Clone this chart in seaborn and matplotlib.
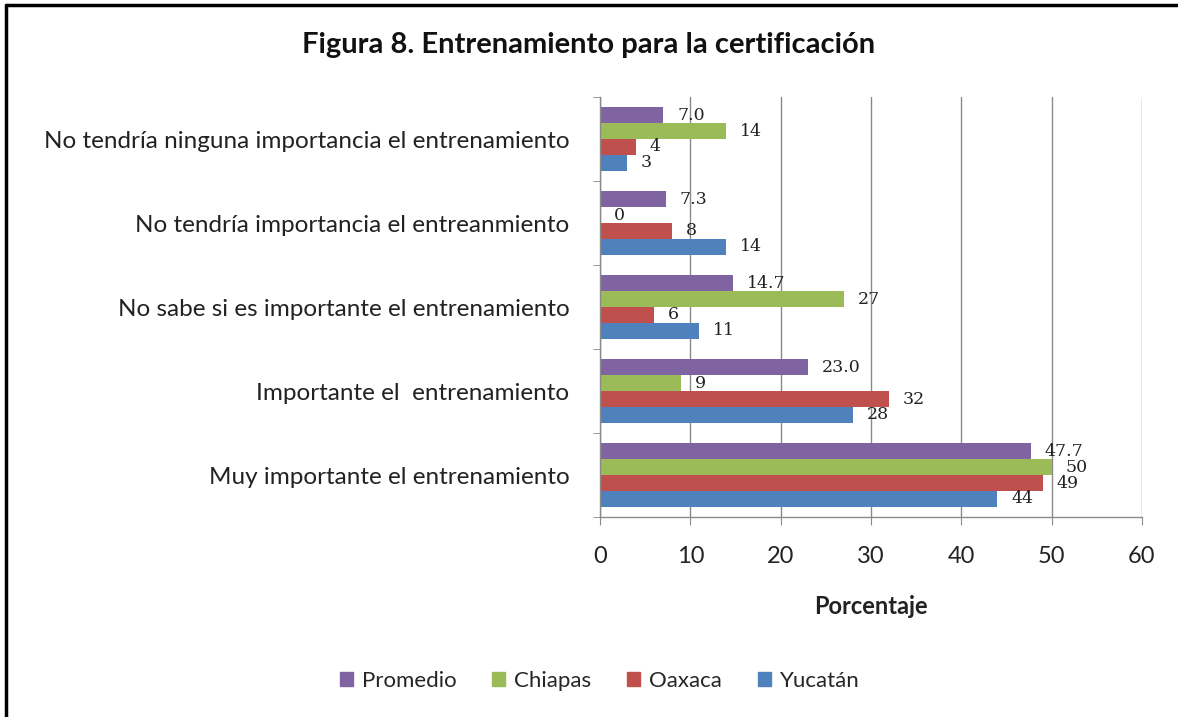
import matplotlib
matplotlib.use("Agg")
import matplotlib.pyplot as plt
from matplotlib.lines import Line2D
import pandas as pd
import seaborn as sns

categorias = ['No tendría ninguna importancia el entrenamiento',
              'No tendría importancia el entreanmiento',
              'No sabe si es importante el entrenamiento',
              'Importante el  entrenamiento',
              'Muy importante el entrenamiento']
estados = ['Promedio', 'Chiapas', 'Oaxaca', 'Yucatán']
promedio = [7.0, 7.3, 14.7, 23.0, 47.7]
chiapas = [14, 0, 27, 9, 50]
oaxaca = [4, 8, 6, 32, 49]
yucatan = [3, 14, 11, 28, 44]
colores = ['#8064A2', '#9BBB59', '#C0504D', '#4F81BD']

df = pd.DataFrame({'Categoria': categorias * 4,
                   'Estado': sum([[e] * 5 for e in estados], []),
                   'Porcentaje': promedio + chiapas + oaxaca + yucatan})

sns.set_style('white')
plt.rcParams['font.family'] = ['Lato', 'DejaVu Sans']

fig = plt.figure(figsize=(11.78, 7.17), dpi=100)
ax = fig.add_axes([0.5093, 0.2789, 0.4601, 0.5858])

sns.barplot(data=df, x='Porcentaje', y='Categoria', hue='Estado', hue_order=estados,
            order=categorias, palette=colores, orient='h', width=0.76, gap=0,
            saturation=1, legend=True, ax=ax, edgecolor='none')

# etiquetas de datos
for i, cont in enumerate(ax.containers):
    fmt = '%.1f' if i == 0 else '%d'
    ax.bar_label(cont, fmt=fmt, padding=10, fontsize=12.5,
                 family='DejaVu Serif', color='#222222')

ax.set_xlim(0, 60)
ax.set_ylim(4.5, -0.5)
ax.set_xticks(range(0, 61, 10))
ax.xaxis.grid(True, color='#8a8a8a', linewidth=1)
ax.set_axisbelow(True)
for s in ['top', 'right']:
    ax.spines[s].set_visible(False)
for s in ['left', 'bottom']:
    ax.spines[s].set_color('#8a8a8a')
    ax.spines[s].set_linewidth(1)

ax.set_yticks([-0.5, 0.5, 1.5, 2.5, 3.5, 4.5], minor=True)
ax.tick_params(axis='y', which='major', length=0, pad=22, labelsize=17.5, labelcolor='#222222')
ax.tick_params(axis='y', which='minor', length=5, color='#8a8a8a', direction='out', left=True)
ax.tick_params(axis='x', length=6, color='#8a8a8a', direction='out', bottom=True,
               pad=15, labelsize=17, labelcolor='#222222')

ax.set_ylabel('')
ax.set_xlabel('Porcentaje', fontsize=17, fontweight='bold', labelpad=20, color='#222222')

fig.suptitle('Figura 8. Entrenamiento para la certificación', x=0.5, y=0.955,
             fontsize=21, fontweight='bold', color='#111111')

ax.get_legend().remove()
handles = [plt.Rectangle((0, 0), 1, 1, color=c) for c in colores]
fig.legend(handles, estados, loc='center', bbox_to_anchor=(0.509, 0.05), ncol=4,
           frameon=False, fontsize=16, handlelength=0.6, handleheight=0.6,
           handletextpad=0.4, columnspacing=1.6)

# marco
fig.add_artist(Line2D([0.0055, 0.0055], [0, 0.993], transform=fig.transFigure,
                      color='black', linewidth=2.5))
fig.add_artist(Line2D([0.0055, 1], [0.993, 0.993], transform=fig.transFigure,
                      color='black', linewidth=2.5))

fig.savefig('out.png', dpi=100)
